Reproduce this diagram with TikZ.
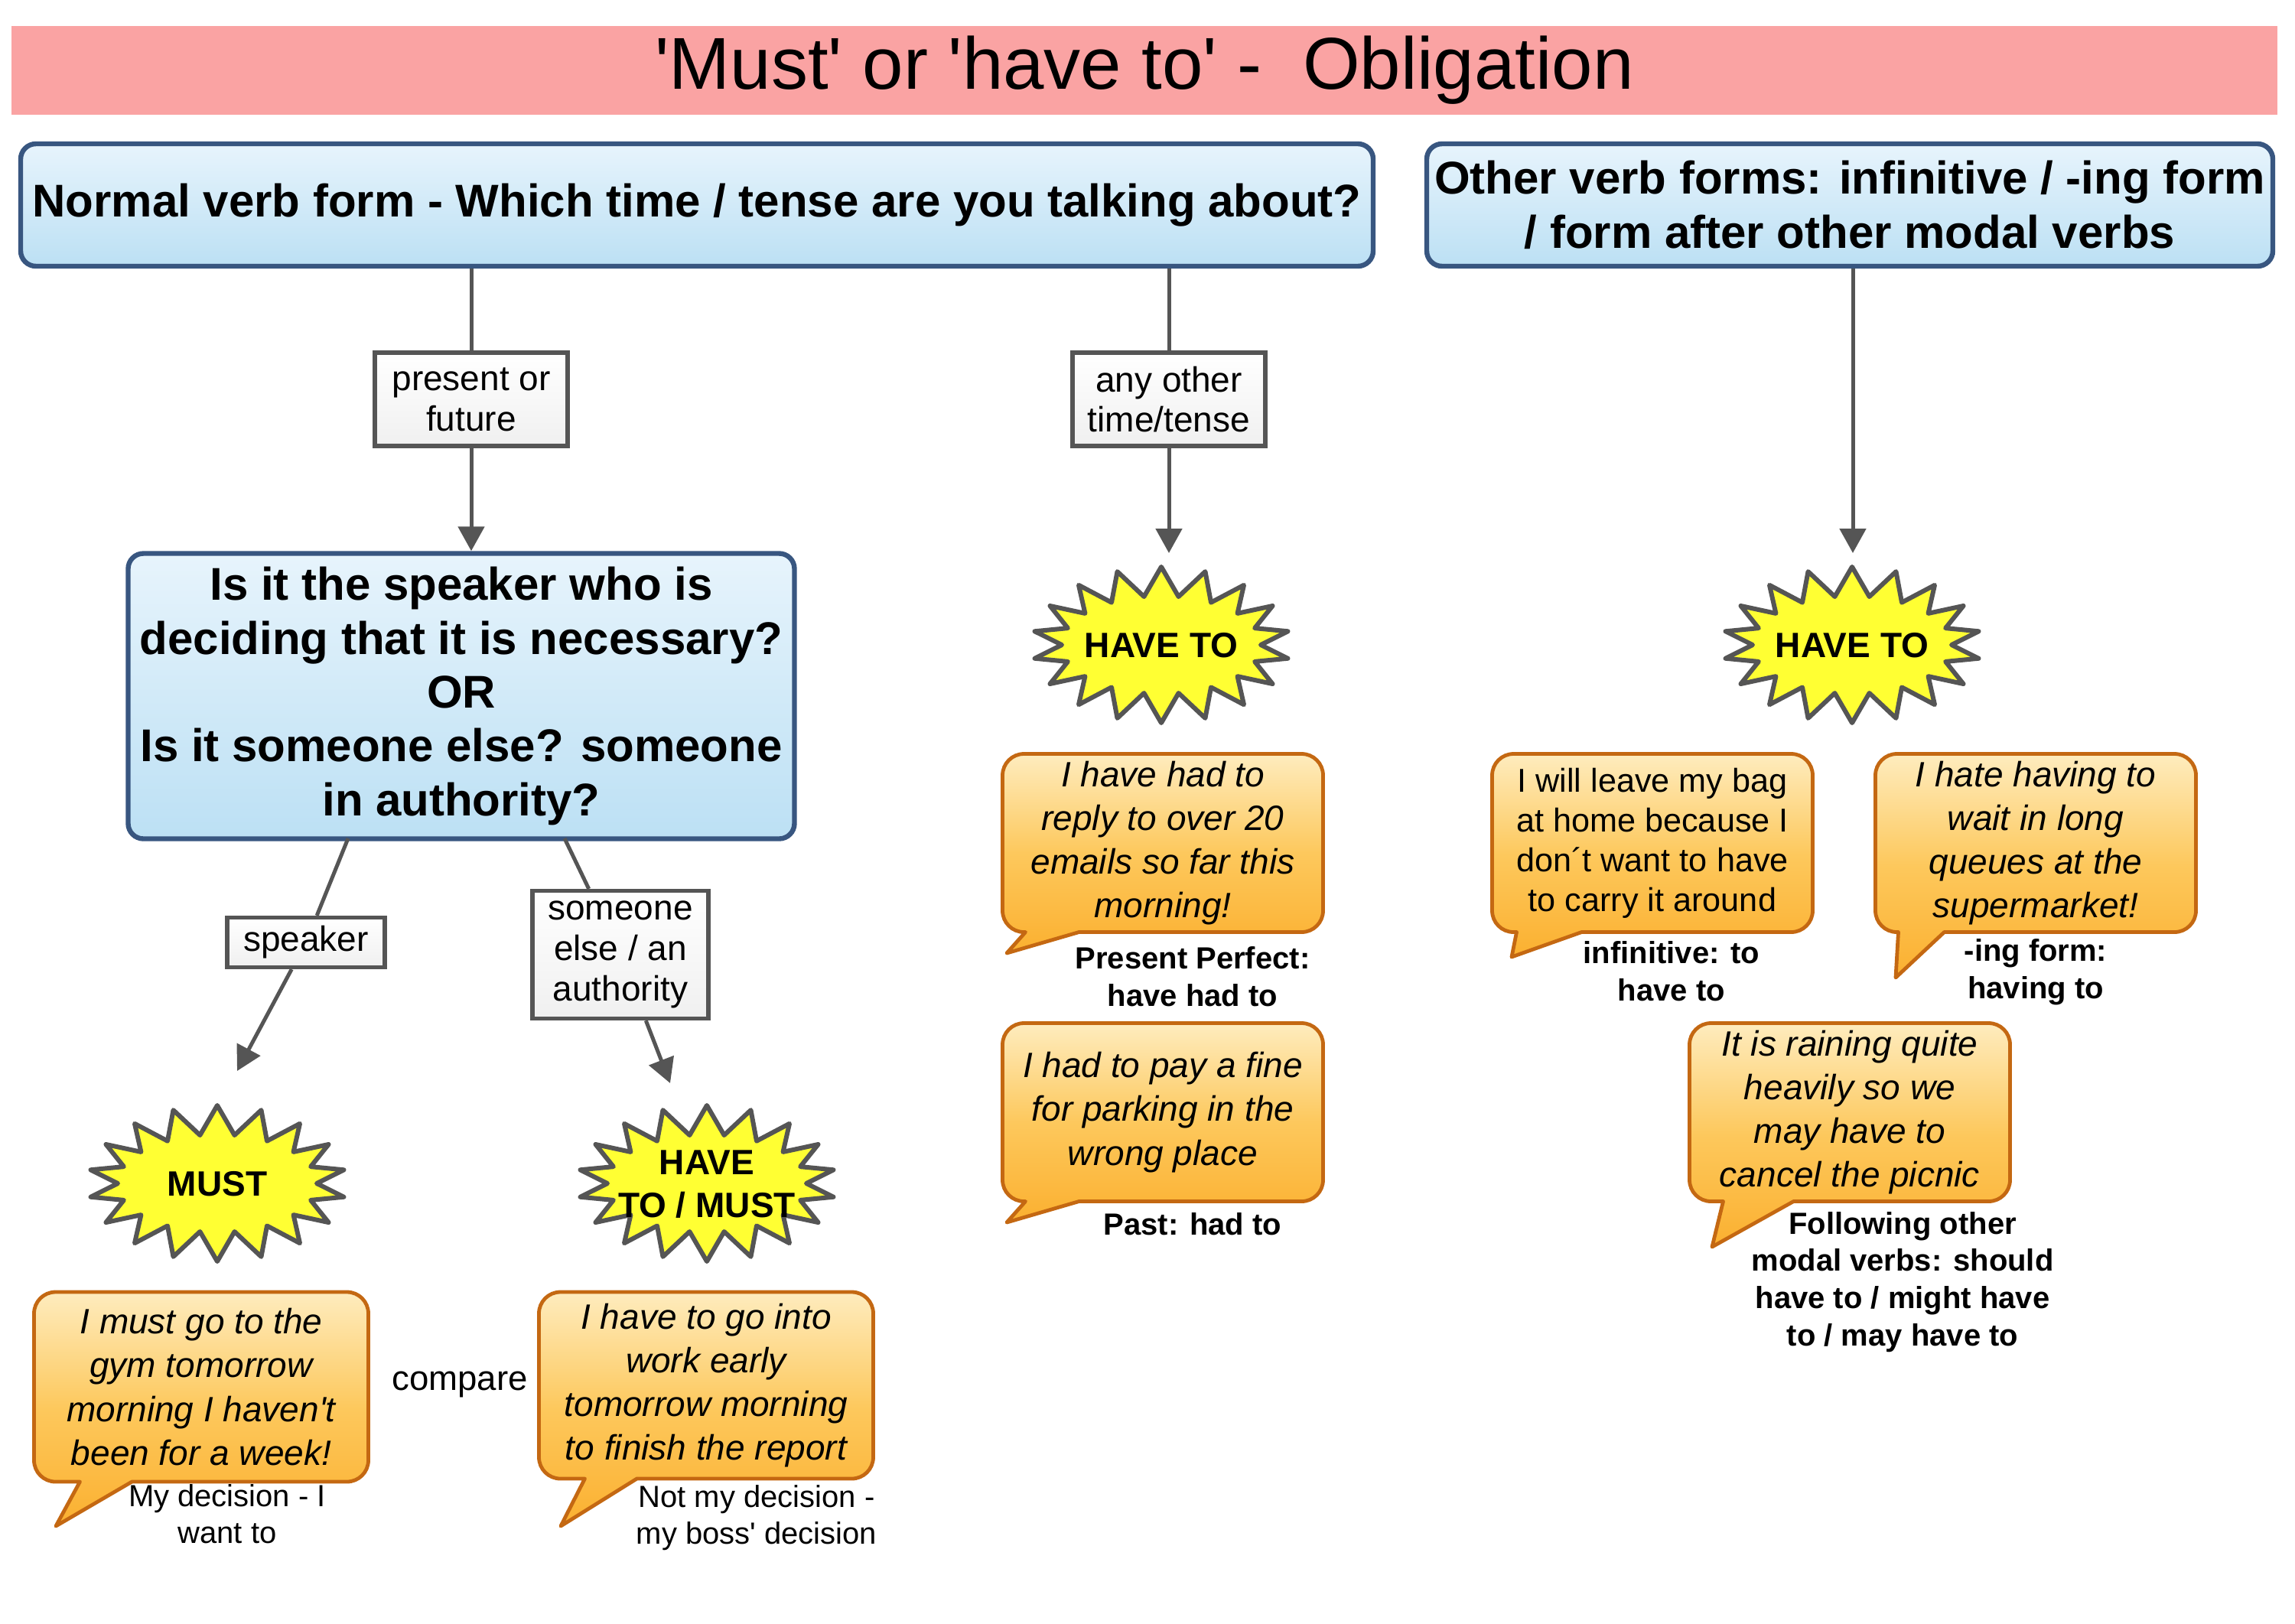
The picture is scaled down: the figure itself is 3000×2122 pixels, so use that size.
\documentclass[tikz,border=0pt]{standalone}
\usepackage{fontspec}
\setmainfont{Liberation Sans}
\usetikzlibrary{arrows.meta,shapes.symbols,calc,backgrounds}

\definecolor{titlepink}{RGB}{250,163,163}
\definecolor{boxtop}{RGB}{231,244,252}
\definecolor{boxbot}{RGB}{188,224,244}
\definecolor{boxline}{RGB}{56,86,128}
\definecolor{linkgray}{RGB}{85,85,85}
\definecolor{starfill}{RGB}{255,255,51}
\definecolor{bubtop}{RGB}{254,236,190}
\definecolor{bubmid}{RGB}{253,200,92}
\definecolor{bubbot}{RGB}{251,176,48}
\definecolor{bubline}{RGB}{196,104,18}

\tikzset{every picture/.style={line width=0.75pt}}
\tikzset{
  titlebar/.style={fill=titlepink, minimum width=740.5pt, minimum height=28.75pt, font=\fontsize{24}{28}\selectfont},
  headbox/.style={draw=boxline, line width=1.6pt, rounded corners=5pt, top color=boxtop, bottom color=boxbot, align=center, inner sep=1pt, font=\fontsize{15}{17.6}\selectfont\bfseries},
  tagbox/.style={draw=linkgray, line width=1.3pt, top color=white, bottom color=gray!12, align=center, inner sep=1pt, font=\fontsize{11.5}{13.2}\selectfont},
  burst/.style={starburst, starburst points=18, starburst point height=9.5pt, random starburst=0, draw=linkgray, line width=1.5pt, line join=round, fill=starfill, minimum width=84pt, minimum height=51pt, inner sep=0pt, font=\fontsize{11.5}{14}\selectfont\bfseries},
  bubtext/.style={align=center, inner sep=0pt, minimum width=104pt, minimum height=57.5pt, font=\fontsize{11.5}{14.3}\selectfont\itshape},
  bubble/.style={draw=bubline, line width=1.2pt, line join=round, top color=bubtop, bottom color=bubbot, middle color=bubmid},
  captxt/.style={align=center, inner sep=0pt, font=\fontsize{10}{12.2}\selectfont\bfseries},
  link/.style={draw=linkgray, line width=1.25pt},
  linkarrow/.style={link, -{Triangle[length=8pt,width=8.5pt]}},
}

% text of a burst, kept out of the size of the shape
\newcommand{\bursttext}[1]{\smash{\makebox[0pt]{\raisebox{-4.3pt}{\begin{tabular}{@{}c@{}}#1\end{tabular}}}}}

% #1 text node, #2 tip, #3 and #4 tail base offsets from the left edge
\newcommand{\drawbubble}[4]{%
  \draw[bubble] ($(#1.south west)+(#3,0)$) -- (#2) -- ($(#1.south west)+(#4,0)$)
    [rounded corners=7pt] -- (#1.south east) -- (#1.north east) -- (#1.north west) -- (#1.south west) [sharp corners] -- cycle;
}

\begin{document}
\begin{tikzpicture}[x=0.25pt,y=0.25pt,yscale=-1,xscale=1]
\useasboundingbox (0,0) rectangle (3000,2122);

% Title
\node[titlebar] (title) at (1496,92) {\textquotesingle Must\textquotesingle\ or \textquotesingle have to\textquotesingle\ -\ \ Obligation};

% Head boxes
\node[headbox, minimum width=442pt, minimum height=40pt] (normal) at (911,268) {Normal verb form - Which time / tense are you talking about?};
\node[headbox, minimum width=276.5pt, minimum height=40pt] (other) at (2418,268) {Other verb forms: infinitive / -ing form\\/ form after other modal verbs};

% Tags on the connectors
\node[tagbox, minimum width=63pt, minimum height=30.5pt] (presfut) at (616,522) {present or\\future};
\node[tagbox, minimum width=63pt, minimum height=30.5pt] (anyother) at (1528,522) {any other\\time/tense};

% Question box
\node[headbox, minimum width=217.75pt, minimum height=93.25pt] (question) at (603,910) {Is it the speaker who is\\deciding that it is necessary?\\OR\\Is it someone else? someone\\in authority?};

\node[tagbox, minimum width=51.5pt, minimum height=16.25pt] (speaker) at (400,1232) {speaker};
\node[tagbox, minimum width=57.5pt, minimum height=41.75pt] (someone) at (811,1248) {someone\\else / an\\authority};

% Bursts
\node[burst] (haveto1) at (1518,843) {\bursttext{HAVE TO}};
\node[burst] (must) at (284,1547) {\bursttext{MUST}};
\node[burst] (havemust) at (924,1547) {\bursttext{HAVE\\TO / MUST}};
\node[burst] (haveto2) at (2421,843) {\bursttext{HAVE TO}};

% Arrow ends
\coordinate (tip1) at (1528,723);
\coordinate (tip2) at (2422,723);
\coordinate (q1) at (455,1096);
\coordinate (q2) at (738,1096);
\coordinate (tipmust) at (310,1400);
\coordinate (tiphm) at (876,1416);

% Connectors
\draw[linkarrow] (normal.south -| presfut) -- (presfut) -- (presfut |- question.north);
\draw[linkarrow] (normal.south -| anyother) -- (anyother) -- (tip1);
\draw[linkarrow] (other.south -| tip2) -- (tip2);
\draw[linkarrow] (q1) -- (speaker) -- (tipmust);
\draw[linkarrow] (q2) -- (someone) -- (tiphm);

% Example sentences
\node[bubtext] (ex1) at (1520,1102) {I have had to\\reply to over 20\\emails so far this\\morning!};
\node[bubtext] (ex2) at (1520,1454) {I had to pay a fine\\for parking in the\\wrong place};
\node[bubtext, minimum width=108.5pt, minimum height=61.25pt] (ex3) at (263,1813) {I must go to the\\gym tomorrow\\morning I haven\textquotesingle t\\been for a week!};
\node[bubtext, minimum width=108.5pt, minimum height=60.25pt] (ex4) at (923,1811) {I have to go into\\work early\\tomorrow morning\\to finish the report};
\node[bubtext, font=\fontsize{10.8}{13}\selectfont] (ex5) at (2160,1102) {I will leave my bag\\at home because I\\don´t want to have\\to carry it around};
\node[bubtext] (ex6) at (2661,1102) {I hate having to\\wait in long\\queues at the\\supermarket!};
\node[bubtext] (ex7) at (2418,1454) {It is raining quite\\heavily so we\\may have to\\cancel the picnic};

\coordinate (bt1) at (1316,1246);
\coordinate (bt2) at (1316,1598);
\coordinate (bt3) at (73,1995);
\coordinate (bt4) at (733,1995);
\coordinate (bt5) at (1976,1251);
\coordinate (bt6) at (2478,1278);
\coordinate (bt7) at (2238,1630);

% Captions
\node[captxt] (cap1) at (1559,1277) {Present Perfect:\\have had to};
\node[captxt] (cap2) at (1559,1600) {Past: had to};
\node[captxt, font=\fontsize{10}{12}\selectfont] (cap3) at (297,1979) {My decision - I\\want to};
\node[captxt, font=\fontsize{10}{12}\selectfont] (cap4) at (989,1984) {Not my decision -\\my boss\textquotesingle\ decision};
\node[captxt] (cap5) at (2185,1270) {infinitive: to\\have to};
\node[captxt] (cap6) at (2661,1271) {-ing form:\\having to};
\node[captxt] (cap7) at (2487,1676) {Following other\\modal verbs: should\\have to / might have\\to / may have to};
\node[captxt, font=\fontsize{11.4}{13}\selectfont] (compare) at (601,1810) {compare};

\begin{scope}[on background layer]
\fill[white] (0,0) rectangle (3000,2122);
\drawbubble{ex1}{bt1}{30}{100}
\drawbubble{ex2}{bt2}{30}{100}
\drawbubble{ex3}{bt3}{60}{128}
\drawbubble{ex4}{bt4}{60}{128}
\drawbubble{ex5}{bt5}{32}{117}
\drawbubble{ex6}{bt6}{30}{90}
\drawbubble{ex7}{bt7}{44}{136}
\end{scope}

\end{tikzpicture}
\end{document}
